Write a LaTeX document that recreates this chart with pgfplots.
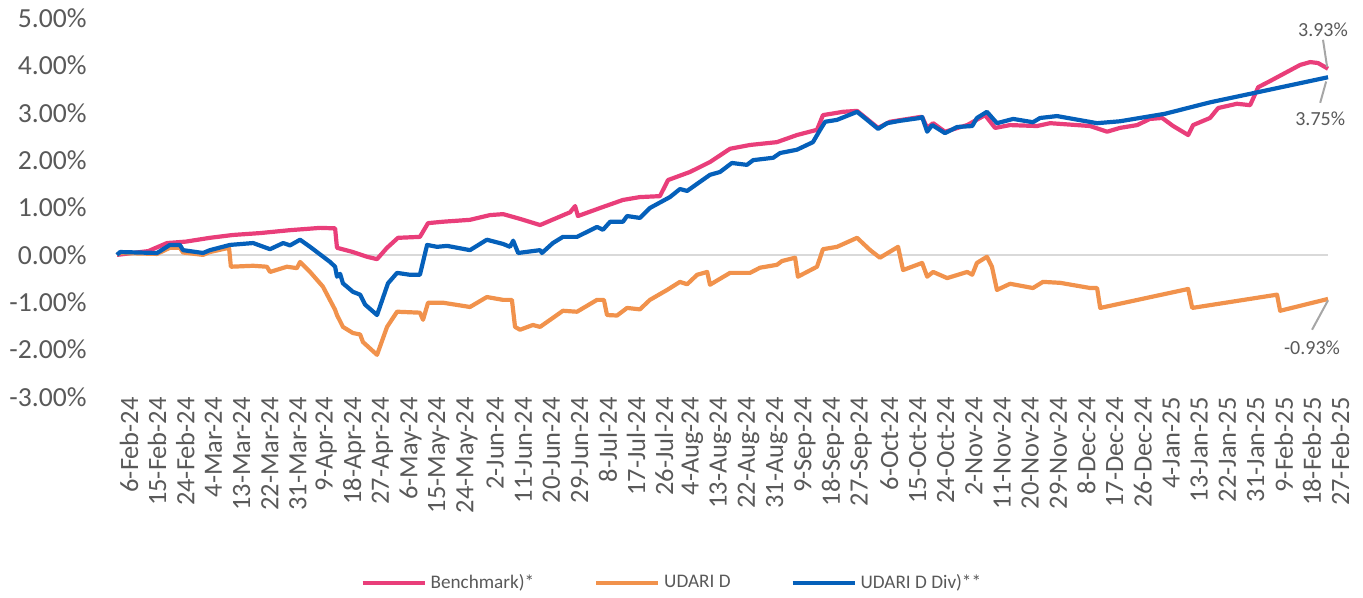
\documentclass[border=0pt]{standalone}
\usepackage{pgfplots}
\pgfplotsset{compat=1.18}
\usepackage{fontspec}
\setmainfont{Carlito}
\definecolor{cpink}{RGB}{233,62,122}
\definecolor{corange}{RGB}{241,146,76}
\definecolor{cblue}{RGB}{5,96,186}
\definecolor{ctext}{RGB}{89,89,89}
\definecolor{czero}{RGB}{217,217,217}
\definecolor{clead}{RGB}{166,166,166}

\begin{document}
\begin{tikzpicture}
\path[use as bounding box] (-58.5pt,-100.5pt) rectangle (623pt,198.5pt);
\begin{axis}[
  at={(0,0)}, anchor=south west,
  scale only axis, width=605.5pt, height=189.5pt,
  xmin=0, xmax=387, ymin=-3, ymax=5,
  clip=false,
  axis line style={draw=none},
  tick style={draw=none},
  xtick={0,9,...,387},
  xticklabels={6-Feb-24,15-Feb-24,24-Feb-24,4-Mar-24,13-Mar-24,22-Mar-24,31-Mar-24,9-Apr-24,18-Apr-24,27-Apr-24,6-May-24,15-May-24,24-May-24,2-Jun-24,11-Jun-24,20-Jun-24,29-Jun-24,8-Jul-24,17-Jul-24,26-Jul-24,4-Aug-24,13-Aug-24,22-Aug-24,31-Aug-24,9-Sep-24,18-Sep-24,27-Sep-24,6-Oct-24,15-Oct-24,24-Oct-24,2-Nov-24,11-Nov-24,20-Nov-24,29-Nov-24,8-Dec-24,17-Dec-24,26-Dec-24,4-Jan-25,13-Jan-25,22-Jan-25,31-Jan-25,9-Feb-25,18-Feb-25,27-Feb-25},
  xticklabel style={rotate=90, anchor=east, inner sep=0pt, yshift=-6pt, font=\fontsize{13.2}{16}\selectfont, text=ctext},
  ytick={-3,-2,-1,0,1,2,3,4,5},
  yticklabels={-3.00\%,-2.00\%,-1.00\%,0.00\%,1.00\%,2.00\%,3.00\%,4.00\%,5.00\%},
  yticklabel style={anchor=east, inner sep=0pt, xshift=-15pt, font=\fontsize{13.8}{16}\selectfont, text=ctext},
  extra y ticks={0},
  extra y tick labels={},
  extra y tick style={grid=major, major grid style={draw=czero, line width=1.1pt}},
  legend columns=3,
  legend style={draw=none, fill=none, at={(0.459,-0.491)}, anchor=center,
    font=\fontsize{9.6}{11}\selectfont, text=ctext,
    /tikz/every even column/.append style={column sep=28pt}},
  legend image code/.code={\draw[#1, line width=2pt] (0pt,0pt) -- (31pt,0pt);},
  every axis plot/.append style={line width=2.1pt, line join=round, mark=none},
]
\addplot[cpink] table {
0 0
5 0.04
10 0.08
16.0 0.25
22 0.28
29.7 0.36
37 0.42
45.7 0.46
55 0.52
64.9 0.57
69.7 0.56
70.3 0.15
75.4 0.06
79.9 -0.04
83.1 -0.09
86.3 0.15
89.8 0.36
96.8 0.38
99.4 0.67
104.2 0.70
112.8 0.74
119.2 0.84
123.4 0.86
128.8 0.76
135.2 0.63
144.8 0.90
146.4 1.03
147.3 0.82
154.4 0.99
161.7 1.16
167.1 1.22
173.5 1.24
176.1 1.58
183.1 1.75
189.5 1.96
195.9 2.24
202.3 2.32
210.9 2.38
217.3 2.53
223.7 2.64
225.6 2.95
232.0 3.02
236.5 3.04
243.2 2.68
247.0 2.81
256.6 2.91
257.3 2.91
258.9 2.68
260.8 2.78
264.6 2.60
271.7 2.74
277.4 2.95
280.6 2.68
285.4 2.74
294.0 2.72
298.2 2.78
311.0 2.72
316.4 2.60
320.5 2.68
326.0 2.74
330.1 2.87
334.0 2.89
337.5 2.72
342.3 2.53
343.9 2.74
349.3 2.89
351.9 3.10
357.9 3.19
362.1 3.16
364.7 3.54
368.5 3.67
373.3 3.84
378.1 4.01
381.3 4.07
383.8 4.05
387 3.93
};
\addlegendentry{Benchmark)*}
\addplot[corange] table {
0 0
1 0.04
12.8 0.02
16.9 0.15
20.1 0.15
21.1 0.05
27.5 0.0
29.7 0.06
35.8 0.15
36.4 -0.25
43.5 -0.23
47.9 -0.25
48.9 -0.36
54.3 -0.25
57.5 -0.28
58.5 -0.15
61.7 -0.36
65.8 -0.67
69.7 -1.16
70.3 -1.27
72.2 -1.52
75.4 -1.65
77.7 -1.68
78.6 -1.84
83.1 -2.11
86.3 -1.52
89.5 -1.20
96.8 -1.22
97.8 -1.37
99.4 -1.01
104.2 -1.01
112.8 -1.10
118.2 -0.89
123.4 -0.95
126.2 -0.95
127.2 -1.52
128.8 -1.58
132.9 -1.48
135.2 -1.52
139.3 -1.33
142.5 -1.18
147.0 -1.20
153.4 -0.95
155.6 -0.95
156.6 -1.27
159.8 -1.28
163.0 -1.12
167.1 -1.15
170.3 -0.95
175.8 -0.74
179.9 -0.57
182.2 -0.62
185.4 -0.42
188.6 -0.36
189.5 -0.63
195.9 -0.38
202.3 -0.38
205.5 -0.27
210.9 -0.21
212.5 -0.13
216.7 -0.06
217.6 -0.46
223.7 -0.25
225.6 0.12
230.1 0.17
236.5 0.36
240.7 0.10
243.8 -0.06
249.6 0.17
251.2 -0.32
257.3 -0.17
258.9 -0.46
260.8 -0.36
265.3 -0.49
271.7 -0.36
273.3 -0.42
274.8 -0.17
278.0 -0.04
279.6 -0.25
281.2 -0.74
285.4 -0.61
292.7 -0.70
295.9 -0.57
301.4 -0.59
311.0 -0.70
313.2 -0.70
314.2 -1.12
342.3 -0.72
343.6 -1.12
370.7 -0.84
371.7 -1.18
387 -0.93
};
\addlegendentry{UDARI D}
\addplot[cblue] table {
0 0
1 0.06
12.8 0.04
16.9 0.21
20.1 0.21
21.1 0.10
27.5 0.04
29.7 0.10
36.1 0.21
43.5 0.25
48.9 0.12
53.1 0.25
55.3 0.20
58.5 0.32
61.7 0.17
68.1 -0.15
69.7 -0.25
70.3 -0.46
71.3 -0.40
72.2 -0.60
75.4 -0.78
77.7 -0.84
79.3 -1.05
83.1 -1.27
86.6 -0.60
89.5 -0.38
93.6 -0.42
96.8 -0.42
99.1 0.21
102.3 0.17
105.5 0.19
112.8 0.10
118.2 0.32
123.4 0.23
125.6 0.17
126.6 0.30
128.2 0.04
135.2 0.10
135.8 0.04
139.3 0.25
142.5 0.38
147.0 0.38
153.4 0.59
155.3 0.53
157.6 0.70
161.7 0.70
163.0 0.82
167.1 0.78
170.3 0.99
176.7 1.22
179.9 1.39
182.2 1.35
185.4 1.50
189.5 1.69
192.7 1.75
196.5 1.94
201.3 1.90
203.3 2.00
209.7 2.05
211.9 2.15
217.3 2.22
222.4 2.38
224.7 2.64
226.3 2.81
230.1 2.85
236.5 3.02
239.7 2.85
243.2 2.66
246.1 2.78
250.2 2.83
256.6 2.89
257.3 2.91
258.9 2.60
260.5 2.74
264.6 2.57
268.5 2.70
273.3 2.72
274.8 2.89
278.0 3.02
281.2 2.78
286.4 2.87
292.7 2.80
295.0 2.89
300.4 2.93
313.2 2.78
320.5 2.82
335 2.98
349.3 3.22
365 3.44
387 3.75
};
\addlegendentry{UDARI D Div)**}
\draw[clead, line width=1pt] (axis cs:385.4,4.54) -- (axis cs:386.7,3.97);
\draw[clead, line width=1pt] (axis cs:386.4,3.66) -- (axis cs:384.5,3.21);
\draw[clead, line width=1pt] (axis cs:387,-0.96) -- (axis cs:381.9,-1.58);
\node[text=ctext, font=\fontsize{10}{12}\selectfont] at (axis cs:385.4,4.75) {3.93\%};
\node[text=ctext, font=\fontsize{10}{12}\selectfont] at (axis cs:384.5,2.87) {3.75\%};
\node[text=ctext, font=\fontsize{10}{12}\selectfont] at (axis cs:381.9,-1.96) {-0.93\%};
\end{axis}
\end{tikzpicture}
\end{document}
